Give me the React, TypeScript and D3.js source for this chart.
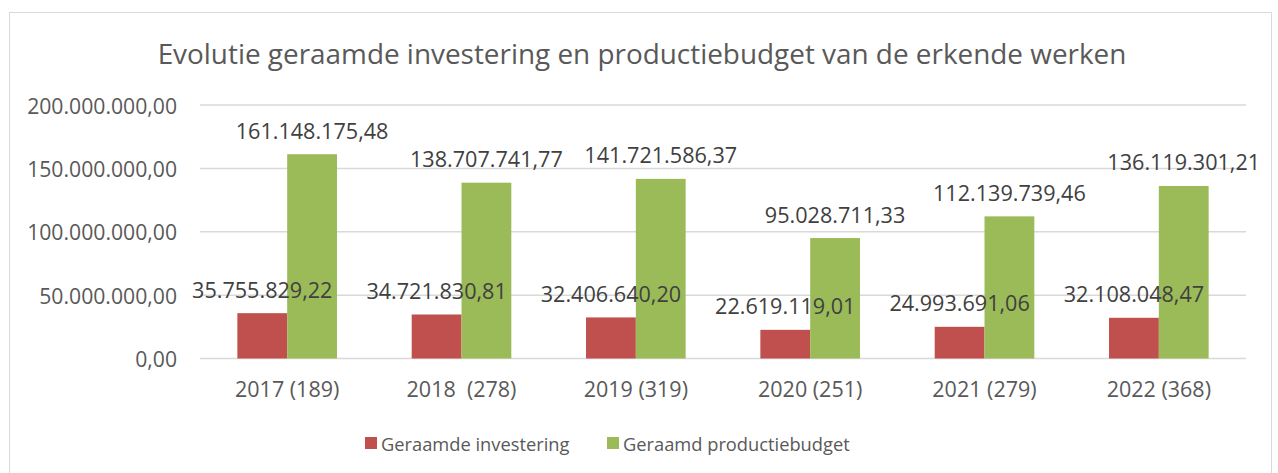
import React from 'react';
import * as d3 from 'd3';

const categories = ['2017 (189)', '2018  (278)', '2019 (319)', '2020 (251)', '2021 (279)', '2022 (368)'];
const investering = [35755829.22, 34721830.81, 32406640.2, 22619119.01, 24993691.06, 32108048.47];
const productiebudget = [161148175.48, 138707741.77, 141721586.37, 95028711.33, 112139739.46, 136119301.21];
const yTicks = [0, 50000000, 100000000, 150000000, 200000000];
const seriesNames = ['Geraamde investering', 'Geraamd productiebudget'];
const colors = ['#C0504D', '#9BBB59'];

const fmt = (v: number) => {
  const [int, dec] = v.toFixed(2).split('.');
  return int.replace(/\B(?=(\d{3})+(?!\d))/g, '.') + ',' + dec;
};

const App = () => {
  const width = 1278;
  const height = 473;
  const left = 200;
  const right = 1246;
  const top = 105;
  const bottom = 358.5;
  const font = '"Open Sans", sans-serif';
  const textColor = '#595959';

  // Excel style: gap width 150% between the category clusters
  const x = d3.scaleBand().domain(categories).range([left, right]).paddingInner(0.75 / 3.5 * 2).paddingOuter(0.75 / 3.5);
  const inner = d3.scaleBand().domain(['0', '1']).range([0, x.bandwidth()]);
  const y = d3.scaleLinear().domain([0, 200000000]).range([bottom, top]);

  const series = [investering, productiebudget];

  return (
    <svg width={width} height={height} style={{ position: 'absolute', left: 0, top: 0 }}>
      <rect x={0} y={0} width={width} height={height} fill="#fff" />
      <rect x={9.5} y={12.5} width={1262} height={470} fill="#fff" stroke="#D9D9D9" strokeWidth={1} />
      <text x={642} y={53} textAnchor="middle" dominantBaseline="central" fontFamily={font} fontSize={27.9} fill={textColor}>
        Evolutie geraamde investering en productiebudget van de erkende werken
      </text>
      {yTicks.map((t) => (
        <g key={t}>
          <line x1={left} x2={right} y1={y(t)} y2={y(t)} stroke="#D9D9D9" strokeWidth={1.5} />
          <text x={177} y={y(t)} textAnchor="end" dominantBaseline="central" fontFamily={font} fontSize={21.2} fill={textColor}>
            {fmt(t)}
          </text>
        </g>
      ))}
      {series.map((vals, si) => (
        <g key={si}>
          {vals.map((v, i) => {
            const bx = (x(categories[i]) as number) + (inner(String(si)) as number);
            return (
              <rect key={i} x={bx} y={y(v)} width={inner.bandwidth()} height={bottom - y(v)} fill={colors[si]} />
            );
          })}
        </g>
      ))}
      {series.map((vals, si) => (
        <g key={'l' + si}>
          {vals.map((v, i) => {
            const cx = (x(categories[i]) as number) + (inner(String(si)) as number) + inner.bandwidth() / 2;
            return (
              <text key={i} x={cx} y={y(v) - 24} textAnchor="middle" dominantBaseline="central" fontFamily={font} fontSize={21.6} fill="#404040">
                {fmt(v)}
              </text>
            );
          })}
        </g>
      ))}
      {categories.map((c) => (
        <text key={c} x={(x(c) as number) + x.bandwidth() / 2} y={388} textAnchor="middle" dominantBaseline="central" fontFamily={font} fontSize={21.5} fill={textColor} style={{ whiteSpace: 'pre' }}>
          {c}
        </text>
      ))}
      {seriesNames.map((n, i) => {
        const lx = [365, 607][i];
        return (
          <g key={n}>
            <rect x={lx} y={437} width={12} height={12} fill={colors[i]} />
            <text x={lx + 16} y={443} dominantBaseline="central" fontFamily={font} fontSize={18.3} fill={textColor}>
              {n}
            </text>
          </g>
        );
      })}
    </svg>
  );
};

export default App;
